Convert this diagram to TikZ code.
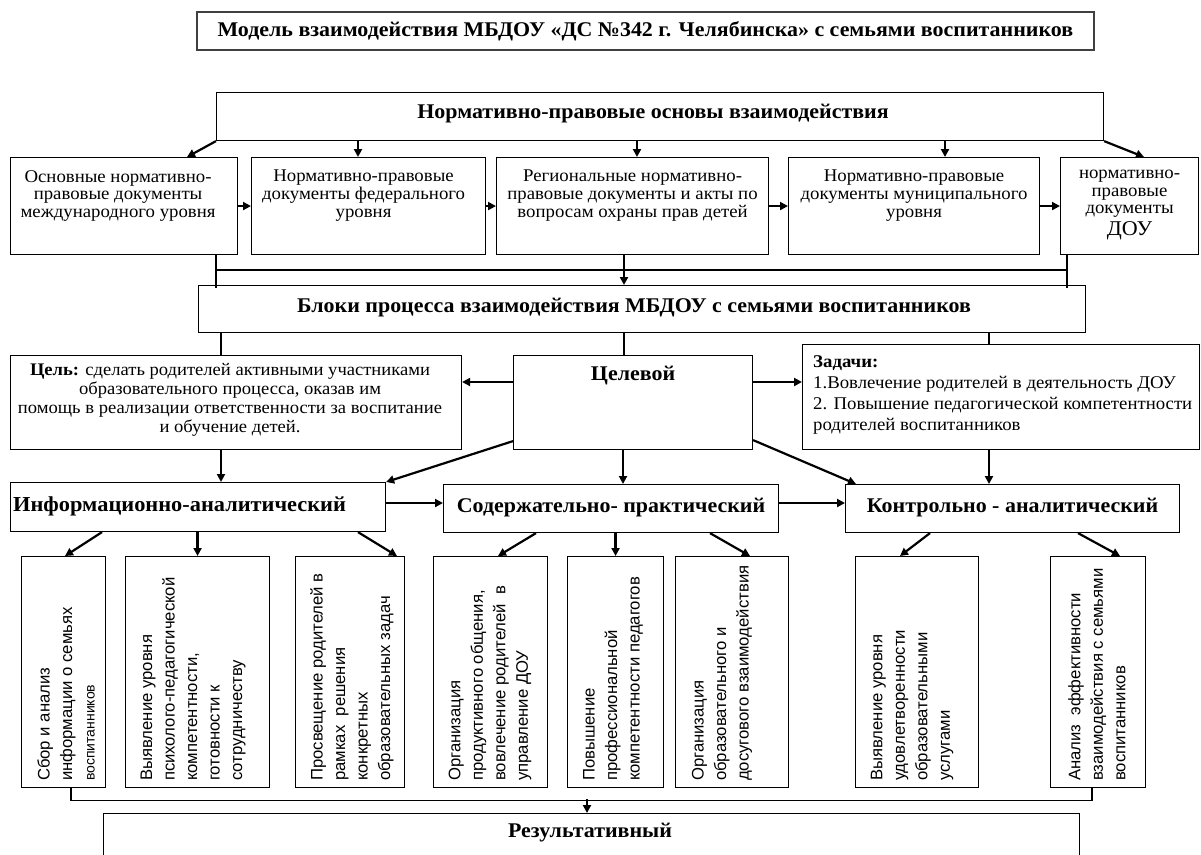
\documentclass[tikz,border=0pt]{standalone}
\usepackage{fontspec}
\setmainfont{Liberation Serif}[FakeStretch=1.05]
\newfontfamily\vsans{Liberation Sans}
\usetikzlibrary{arrows.meta,calc}
\begin{document}
\begin{tikzpicture}[x=1pt,y=-1pt,
  bx/.style={draw, line width=1.1pt, inner sep=0pt, anchor=north west},
  arr/.style={line width=2.2pt, -{Triangle[length=8pt,width=8pt]}},
  ln/.style={line width=1.1pt},
  hd/.style={font=\bfseries\fontsize{20.9}{22}\selectfont, inner sep=0pt},
  tx/.style={font=\fontsize{17.9}{17.6}\selectfont, inner sep=0pt, align=center, anchor=north},
  vt/.style={font=\vsans\fontsize{16.7}{22.5}\selectfont, inner sep=0pt, align=left, rotate=90, anchor=west}]
\useasboundingbox (0,0) rectangle (1201,854);
\fill[white] (0,0) rectangle (1201,854);
% title
\node[bx, draw=black!75, line width=1.8pt, minimum width=897pt, minimum height=38pt] (title) at (196,11) {};
\node[hd] (titlet) at (title.center) {Модель взаимодействия МБДОУ «ДС №342 г. Челябинска» с семьями воспитанников};
% top box
\node[bx, minimum width=887pt, minimum height=48pt] (T) at (216,92) {};
\node[hd] (Tt) at ([xshift=-7pt,yshift=3pt]T.center) {Нормативно-правовые основы взаимодействия};
% row of five
\node[bx, minimum width=227pt, minimum height=97pt] (b1) at (10,157) {};
\node[bx, minimum width=234pt, minimum height=97pt] (b2) at (251,157) {};
\node[bx, minimum width=272pt, minimum height=97pt] (b3) at (496,157) {};
\node[bx, minimum width=251pt, minimum height=97pt] (b4) at (788,157) {};
\node[bx, minimum width=138pt, minimum height=97pt] (b5) at (1060,157) {};
\node[tx] (b1t) at ([xshift=-6pt,yshift=-13pt]b1.north) {Основные нормативно-\\правовые документы\\международного уровня};
\node[tx] (b2t) at ([xshift=-5pt,yshift=-13pt]b2.north) {Нормативно-правовые\\документы федерального\\уровня};
\node[tx] (b3t) at ([yshift=-13pt]b3.north) {Региональные нормативно-\\правовые документы и акты по\\вопросам охраны прав детей};
\node[tx] (b4t) at ([yshift=-13pt]b4.north) {Нормативно-правовые\\документы муниципального\\уровня};
\node[tx] (b5t) at ([yshift=-13pt]b5.north) {нормативно-\\правовые\\документы\\[3pt]{\fontsize{21}{21}\selectfont ДОУ}};
% connectors top
\draw[arr] (T.south west) -- ($(b1.north west)+(177,0)$);
\draw[arr] ($(T.south west)+(142,0)$) -- ($(b2.north west)+(107,0)$);
\draw[arr] ($(T.south west)+(421,0)$) -- ($(b3.north west)+(141,0)$);
\draw[arr] ($(T.south west)+(729,0)$) -- ($(b4.north west)+(157,0)$);
\draw[arr] (T.south east) -- ($(b5.north west)+(84,0)$);
\draw[arr] (b1.east) -- (b2.west);
\draw[arr] (b2.east) -- (b3.west);
\draw[arr] (b3.east) -- (b4.west);
\draw[arr] (b4.east) -- (b5.west);
% blocks box
\node[bx, minimum width=887pt, minimum height=47pt] (B) at (198,285) {};
\node[hd] (Bt) at ([xshift=-8pt,yshift=2pt]B.center) {Блоки процесса взаимодействия МБДОУ с семьями воспитанников};
\coordinate (busL) at (216,270);
\coordinate (busR) at (1067,270);
\draw[ln] ($(b1.south west)+(206,0)$) -- ($(B.north west)+(18,3)$);
\draw[ln] ($(b5.south west)+(7,0)$) -- ($(B.north west)+(869,3)$);
\draw[ln] (busL) -- (busR);
\draw[arr] ($(b3.south west)+(128,0)$) -- ($(B.north west)+(426,0)$);
% middle row
\node[bx, minimum width=451pt, minimum height=94pt] (C) at (10,355) {};
\node[bx, minimum width=239pt, minimum height=94pt] (G) at (513,355) {};
\node[bx, minimum width=397pt, minimum height=105pt] (Z) at (802,344) {};
\node[tx, font=\fontsize{17.7}{19.2}\selectfont] (Ct) at ([xshift=-6pt,yshift=-8pt]C.north) {\textbf{Цель:} сделать родителей активными участниками\\образовательного процесса, оказав им\\помощь в реализации ответственности за воспитание\\и обучение детей.};
\node[hd, anchor=north] (Gt) at ([yshift=-11pt]G.north) {Целевой};
\node[tx, align=left, anchor=north west, font=\fontsize{17.9}{21}\selectfont] (Zt) at ([xshift=11pt,yshift=-11pt]Z.north west) {\textbf{Задачи:}\\1.Вовлечение родителей в деятельность ДОУ\\2. Повышение педагогической компетентности\\родителей воспитанников};
\draw[ln] ($(B.south west)+(23,0)$) -- ($(C.north west)+(211,0)$);
\draw[ln] ($(B.south west)+(426,0)$) -- ($(G.north west)+(111,0)$);
\draw[ln] ($(B.south west)+(791,0)$) -- ($(Z.north west)+(187,0)$);
\draw[arr] ($(G.north west)+(0,27)$) -- ($(C.north east)+(0,27)$);
\draw[arr] ($(G.north east)+(0,27)$) -- ($(Z.north west)+(0,38)$);
% third row
\node[bx, minimum width=375pt, minimum height=49pt] (I) at (10,482) {};
\node[bx, minimum width=335pt, minimum height=48pt] (S) at (443,484) {};
\node[bx, minimum width=334pt, minimum height=48pt] (K) at (845,484) {};
\node[hd, anchor=west, font=\bfseries\fontsize{21.3}{22}\selectfont] (It) at ([xshift=3pt,yshift=1pt]I.west) {Информационно-аналитический};
\node[hd] (St) at ([yshift=1pt]S.center) {Содержательно- практический};
\node[hd] (Kt) at ([yshift=1pt]K.center) {Контрольно - аналитический};
\draw[arr] ($(G.south west)+(0,-9)$) -- (I.north east);
\draw[arr] ($(G.south east)+(0,-10)$) -- ($(K.north west)+(11,0)$);
\draw[arr] ($(G.south west)+(110,0)$) -- ($(S.north west)+(180,0)$);
\draw[arr] ($(C.south west)+(211,0)$) -- ($(I.north west)+(211,0)$);
\draw[arr] ($(Z.south west)+(187,0)$) -- ($(K.north west)+(144,0)$);
\draw[arr] ($(I.north east)+(0,21)$) -- ($(S.north west)+(0,19)$);
\draw[arr] ($(S.north east)+(0,19)$) -- ($(K.north west)+(0,19)$);
% vertical boxes
\node[bx, minimum width=84pt, minimum height=231pt] (V1) at (21,556) {};
\node[bx, minimum width=144pt, minimum height=231pt] (V2) at (125,556) {};
\node[bx, minimum width=109pt, minimum height=231pt] (V3) at (295,556) {};
\node[bx, minimum width=114pt, minimum height=231pt] (V4) at (433,556) {};
\node[bx, minimum width=96pt, minimum height=231pt] (V5) at (567,556) {};
\node[bx, minimum width=113pt, minimum height=231pt] (V6) at (675,556) {};
\node[bx, minimum width=123pt, minimum height=231pt] (V7) at (855,556) {};
\node[bx, minimum width=95pt, minimum height=231pt] (V8) at (1050,556) {};
\node[vt] (V1t) at ($(V1.south west)+(45,-7)$) {Сбор и анализ\\информации о семьях\\{\fontsize{14}{14}\selectfont воспитанников}};
\node[vt] (V2t) at ($(V2.south west)+(68,-7)$) {Выявление уровня\\психолого-педагогической\\компетентности,\\готовности к\\сотрудничеству};
\node[vt] (V3t) at ($(V3.south west)+(57,-7)$) {Просвещение родителей в\\рамках\ \ решения\\конкретных\\образовательных задач};
\node[vt] (V4t) at ($(V4.south west)+(57,-7)$) {Организация\\продуктивного общения,\\вовлечение родителей\ \ в\\управление ДОУ};
\node[vt] (V5t) at ($(V5.south west)+(46,-7)$) {Повышение\\профессиональной\\компетентности педагогов};
\node[vt] (V6t) at ($(V6.south west)+(47,-7)$) {Организация\\образовательного и\\досугового взаимодействия};
\node[vt] (V7t) at ($(V7.south west)+(57,-7)$) {Выявление уровня\\удовлетворенности\\образовательными\\услугами};
\node[vt] (V8t) at ($(V8.south west)+(47,-7)$) {Анализ\ \ эффективности\\взаимодействия с семьями\\воспитанников};
\draw[arr] ($(I.south west)+(92,0)$) -- ($(V1.north west)+(44,0)$);
\draw[arr] (V2.north |- I.south) -- (V2.north);
\draw[arr] ($(I.south west)+(348,0)$) -- ($(V3.north west)+(102,0)$);
\draw[arr] ($(S.south west)+(93,0)$) -- ($(V4.north west)+(65,0)$);
\draw[arr] (V5.north |- S.south) -- (V5.north);
\draw[arr] ($(S.south west)+(267,0)$) -- ($(V6.north west)+(75,0)$);
\draw[arr] ($(K.south west)+(85,0)$) -- ($(V7.north west)+(45,0)$);
\draw[arr] ($(K.south west)+(233,0)$) -- ($(V8.north west)+(70,0)$);
% result
\node[bx, minimum width=976pt, minimum height=80pt] (R) at (103,813) {};
\node[hd] (Rt) at (590,833) {Результативный};
\coordinate (rb) at (587,799);
\draw[ln] ($(V1.south west)+(50,0)$) |- ($(V8.south west)+(42,12)$) -- ($(V8.south west)+(42,0)$);
\draw[arr] (rb) -- (rb |- R.north);
\end{tikzpicture}
\end{document}
